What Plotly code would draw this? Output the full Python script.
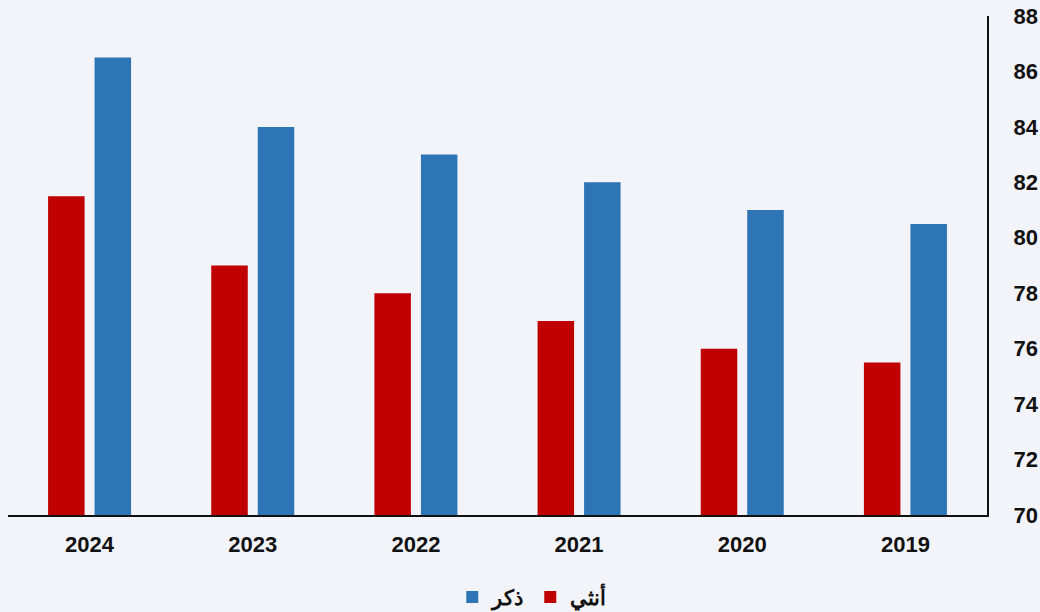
import plotly.graph_objects as go

years = ["2024", "2023", "2022", "2021", "2020", "2019"]
male = [86.5, 84, 83, 82, 81, 80.5]
female = [81.5, 79, 78, 77, 76, 75.5]
tick_vals = [70, 72, 74, 76, 78, 80, 82, 84, 86, 88]

FONT = "Liberation Sans, Arial, sans-serif"

fig = go.Figure()
fig.add_trace(go.Bar(name="ذكر", x=years, y=male, marker_color="#2E75B6", marker_line_width=0))
fig.add_trace(go.Bar(name="أنثي", x=years, y=female, marker_color="#C00000", marker_line_width=0))

fig.update_layout(
    width=1040, height=612,
    barmode="group",
    bargap=0.43, bargroupgap=0.215,
    paper_bgcolor="#F3F4F9", plot_bgcolor="#F3F4F9",
    margin=dict(l=8, r=53, t=16, b=97, autoexpand=False),
    font=dict(family=FONT, size=22, color="#111111"),
    legend=dict(orientation="h", x=0.535, xanchor="center", y=-0.165, yanchor="middle",
                font=dict(size=21, color="#111111", weight="bold"),
                itemwidth=30, tracegroupgap=0),
    showlegend=True,
)
fig.update_xaxes(
    categoryorder="array", categoryarray=years[::-1], autorange="reversed",
    showline=True, linecolor="#111111", linewidth=2, showgrid=False, automargin=False,
    ticks="", ticklabelstandoff=9,
    tickfont=dict(size=22, family=FONT, weight="bold"),
)
fig.update_yaxes(
    side="right", range=[70, 88], tickvals=tick_vals,
    showline=True, linecolor="#111111", linewidth=2, showgrid=False, zeroline=False,
    automargin=False,
    ticks="", ticklabelstandoff=20,
    tickfont=dict(size=22, family=FONT, weight="bold"),
)
fig.write_html("out.html", config={"displayModeBar": False},
               post_script="document.body.style.margin='0';document.body.style.background='#F3F4F9';")
